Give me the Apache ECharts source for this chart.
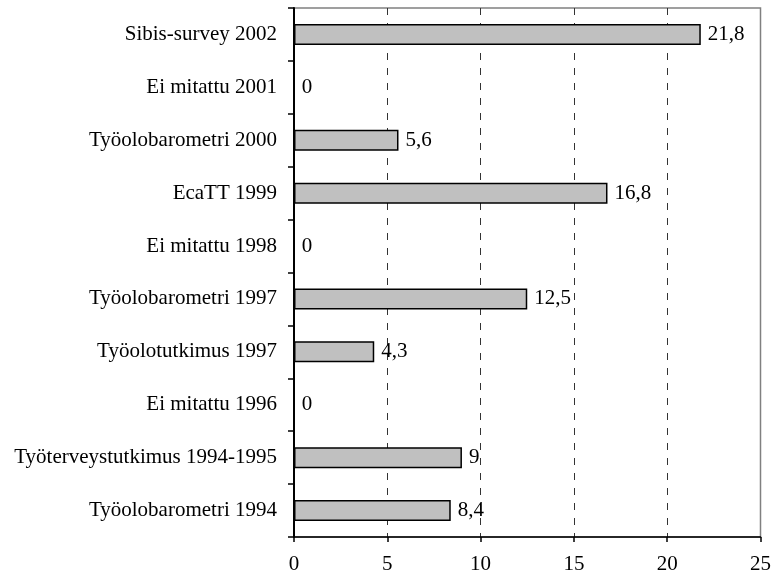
<!DOCTYPE html>
<html>
<head>
<meta charset="utf-8">
<script src="https://cdn.jsdelivr.net/npm/echarts@6/dist/echarts.min.js"></script>
<style>
html,body{margin:0;padding:0;background:#fff;}
#chart{width:774px;height:583px;}
</style>
</head>
<body>
<div id="chart"></div>
<script>
// Categories listed top to bottom as in the reference
const categories = [
  "Sibis-survey 2002",
  "Ei mitattu 2001",
  "Työolobarometri 2000",
  "EcaTT 1999",
  "Ei mitattu 1998",
  "Työolobarometri 1997",
  "Työolotutkimus 1997",
  "Ei mitattu 1996",
  "Työterveystutkimus 1994-1995",
  "Työolobarometri 1994"
];
const values = [21.8, 0, 5.6, 16.8, 0, 12.5, 4.3, 0, 9, 8.4];
const xTicks = [0, 5, 10, 15, 20, 25];

const FONT = "'Liberation Serif', 'Times New Roman', serif";
const fmt = v => String(v).replace('.', ',');

const chart = echarts.init(document.getElementById('chart'), null, {renderer: 'canvas'});
chart.setOption({
  animation: false,
  backgroundColor: '#ffffff',
  grid: {
    left: 294, top: 8, right: 11, bottom: 46,
    show: true, borderColor: '#808080', borderWidth: 1.5
  },
  xAxis: {
    type: 'value',
    min: xTicks[0], max: xTicks[xTicks.length - 1], interval: 5,
    axisLine: {show: true, lineStyle: {color: '#000', width: 1.5}},
    axisTick: {show: true, length: 5, lineStyle: {color: '#000', width: 1.5}},
    axisLabel: {
      margin: 17, color: '#000', fontFamily: FONT, fontSize: 21,
      formatter: v => fmt(v)
    },
    splitLine: {
      show: true, showMinLine: false, showMaxLine: false,
      lineStyle: {color: '#333', width: 1, type: [7, 8]}
    }
  },
  yAxis: {
    type: 'category',
    data: categories,
    inverse: true,
    axisLine: {show: true, lineStyle: {color: '#000', width: 2}},
    axisTick: {show: true, length: 6, lineStyle: {color: '#000', width: 1.5}},
    axisLabel: {margin: 17, color: '#000', fontFamily: FONT, fontSize: 21},
    splitLine: {show: false}
  },
  series: [{
    type: 'bar',
    data: values,
    barWidth: 21,
    itemStyle: {color: '#c0c0c0', borderColor: '#000', borderWidth: 1.5},
    label: {
      show: true, position: 'right', distance: 7,
      color: '#000', fontFamily: FONT, fontSize: 21,
      formatter: p => fmt(p.value)
    }
  }]
});
</script>
</body>
</html>
